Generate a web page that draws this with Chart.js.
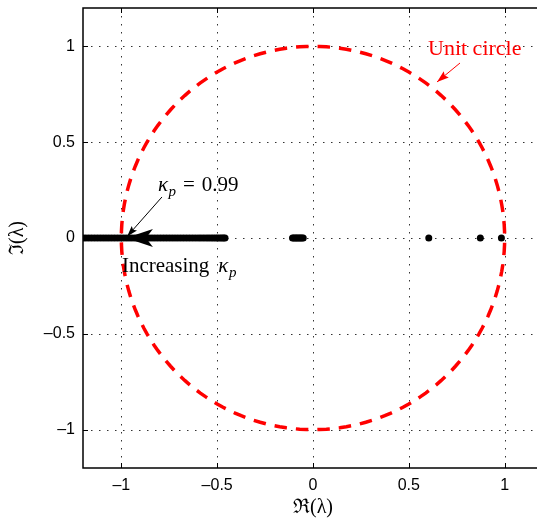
<!DOCTYPE html>
<html>
<head>
<meta charset="utf-8">
<script src="https://cdn.jsdelivr.net/npm/chart.js@4.4.0/dist/chart.umd.min.js"></script>
<style>
  html, body { margin: 0; padding: 0; background: #fff; overflow: hidden; }
  #wrap { width: 560px; height: 525px; }
</style>
</head>
<body>
<div id="wrap"><canvas id="chart1" width="560" height="525" style="width:560px;height:525px"></canvas></div>
<script>
// tick marks on both axes
var xTicks = [-1, -0.5, 0, 0.5, 1];
var yTicks = [-1, -0.5, 0, 0.5, 1];

var eigReal = [
  -1.200, -1.185, -1.170, -1.155, -1.140, -1.125, -1.110, -1.095, -1.080, -1.065,
  -1.050, -1.035, -1.020, -1.005, -0.990, -0.975, -0.960, -0.945, -0.930, -0.915,
  -0.900, -0.885, -0.870, -0.855, -0.840, -0.825, -0.810, -0.795, -0.780, -0.765,
  -0.750, -0.735, -0.720, -0.705, -0.690, -0.675, -0.660, -0.645, -0.630, -0.615,
  -0.600, -0.586, -0.572, -0.558, -0.545, -0.532, -0.520, -0.508, -0.497, -0.486,
  -0.476, -0.467, -0.459,
  -0.107, -0.100, -0.093, -0.086, -0.079, -0.072, -0.065, -0.058, -0.051,
  0.604, 0.873, 0.983
];
var eigImag = eigReal.map(function () { return 0; });

// unit circle reference curve
var circleAngles = [];
for (var a = 0; a <= 360; a += 2) circleAngles.push(a);

function minusLabel(v) {
  return v < 0 ? '\u2013' + Math.abs(v) : String(v);
}

var eigPoints = eigReal.map(function (x, i) { return { x: x, y: eigImag[i] }; });
var circlePoints = circleAngles.map(function (d) {
  var t = d * Math.PI / 180;
  return { x: Math.cos(t), y: Math.sin(t) };
});

function px(chart, x) { return chart.scales.x.getPixelForValue(x); }
function py(chart, y) { return chart.scales.y.getPixelForValue(y); }

function arrowHead(ctx, x1, y1, x2, y2, len, half, notch) {
  var ang = Math.atan2(y2 - y1, x2 - x1);
  var c = Math.cos(ang), s = Math.sin(ang);
  ctx.beginPath();
  ctx.moveTo(x2, y2);
  ctx.lineTo(x2 - len * c + half * s, y2 - len * s - half * c);
  ctx.lineTo(x2 - (len - notch) * c, y2 - (len - notch) * s);
  ctx.lineTo(x2 - len * c - half * s, y2 - len * s + half * c);
  ctx.closePath();
  ctx.fill();
}

function kappaP(ctx, x, y, size) {
  ctx.font = 'italic ' + size + 'px "Liberation Serif"';
  ctx.fillText('\u03ba', x, y);
  var w = ctx.measureText('\u03ba').width;
  ctx.font = 'italic ' + Math.round(size * 0.72) + 'px "Liberation Serif"';
  ctx.fillText('p', x + w + 0.5, y + size * 0.22);
  return w + 0.5 + ctx.measureText('p').width;
}

var annot = {
  id: 'annot',
  beforeDatasetsDraw: function (chart) {
    var ctx = chart.ctx, area = chart.chartArea;
    ctx.save();
    ctx.strokeStyle = '#333';
    ctx.lineWidth = 1;
    ctx.setLineDash([1.5, 6.5]);
    xTicks.forEach(function (v) {
      var x = Math.round(px(chart, v)) + 0.5;
      ctx.beginPath(); ctx.moveTo(x, area.top); ctx.lineTo(x, area.bottom); ctx.stroke();
    });
    yTicks.forEach(function (v) {
      var y = Math.round(py(chart, v)) + 0.5;
      ctx.beginPath(); ctx.moveTo(area.left, y); ctx.lineTo(area.right, y); ctx.stroke();
    });
    ctx.restore();
  },
  afterDatasetsDraw: function (chart) {
    var ctx = chart.ctx, area = chart.chartArea;
    ctx.save();
    // box and inward ticks
    ctx.strokeStyle = '#000';
    ctx.lineWidth = 1.5;
    ctx.strokeRect(area.left, area.top, area.right - area.left, area.bottom - area.top);
    ctx.lineWidth = 1;
    xTicks.forEach(function (v) {
      var x = Math.round(px(chart, v)) + 0.5;
      ctx.beginPath();
      ctx.moveTo(x, area.bottom); ctx.lineTo(x, area.bottom - 5);
      ctx.moveTo(x, area.top); ctx.lineTo(x, area.top + 5);
      ctx.stroke();
    });
    yTicks.forEach(function (v) {
      var y = Math.round(py(chart, v)) + 0.5;
      ctx.beginPath();
      ctx.moveTo(area.left, y); ctx.lineTo(area.left + 5, y);
      ctx.moveTo(area.right, y); ctx.lineTo(area.right - 5, y);
      ctx.stroke();
    });

    // thick arrow along the real axis
    ctx.fillStyle = '#000';
    ctx.strokeStyle = '#000';
    var tx1 = px(chart, -0.537), tx2 = px(chart, -0.976), ty = py(chart, 0);
    ctx.lineWidth = 4;
    ctx.beginPath(); ctx.moveTo(tx1, ty); ctx.lineTo(tx2 + 12, ty); ctx.stroke();
    arrowHead(ctx, tx1, ty, tx2, ty, 27, 9, 7);

    // thin arrow to kappa = 0.99
    var ax1 = px(chart, -0.788), ay1 = py(chart, 0.214);
    var ax2 = px(chart, -0.970), ay2 = py(chart, 0.008);
    ctx.lineWidth = 1;
    ctx.beginPath(); ctx.moveTo(ax1, ay1); ctx.lineTo(ax2, ay2); ctx.stroke();
    arrowHead(ctx, ax1, ay1, ax2, ay2, 11, 3.5, 2);

    // red arrow to the circle
    ctx.fillStyle = '#ff0000';
    ctx.strokeStyle = '#ff0000';
    var rx1 = px(chart, 0.767), ry1 = py(chart, 0.913);
    var rx2 = px(chart, 0.647), ry2 = py(chart, 0.814);
    ctx.beginPath(); ctx.moveTo(rx1, ry1); ctx.lineTo(rx2, ry2); ctx.stroke();
    arrowHead(ctx, rx1, ry1, rx2, ry2, 12, 4, 2);

    // texts
    ctx.textBaseline = 'alphabetic';
    ctx.textAlign = 'left';
    ctx.font = '22px "Liberation Serif"';
    ctx.fillText('Unit circle', px(chart, 0.600), py(chart, 0.955));

    ctx.fillStyle = '#000';
    var kx = px(chart, -0.809), ky = py(chart, 0.245);
    var kw = kappaP(ctx, kx, ky, 21);
    ctx.font = '21px "Liberation Serif"';
    ctx.fillText('=', kx + kw + 7, ky);
    ctx.fillText('0.99', kx + kw + 7 + ctx.measureText('=').width + 7, ky);

    var ix = px(chart, -0.997), iy = py(chart, -0.177);
    ctx.font = '21px "Liberation Serif"';
    ctx.fillText('Increasing', ix, iy);
    var iw = ctx.measureText('Increasing').width;
    kappaP(ctx, ix + iw + 9, iy, 21);
    ctx.restore();
  }
};

var ctx1 = document.getElementById('chart1').getContext('2d');
new Chart(ctx1, {
  type: 'scatter',
  data: {
    datasets: [{
      label: 'Unit circle',
      type: 'line',
      data: circlePoints,
      showLine: true,
      borderColor: '#ff0000',
      borderWidth: 3.5,
      borderDash: [12.5, 9],
      borderDashOffset: 17,
      pointRadius: 0,
      fill: false,
      tension: 0,
      order: 0
    }, {
      label: 'Eigenvalues',
      data: eigPoints,
      showLine: false,
      pointRadius: 3.5,
      pointBorderWidth: 0,
      pointBackgroundColor: '#000',
      order: 1
    }]
  },
  options: {
    responsive: false,
    animation: false,
    devicePixelRatio: 1,
    layout: { padding: { left: 0, right: 17, top: 8, bottom: 0 } },
    plugins: { legend: { display: false }, tooltip: { enabled: false } },
    scales: {
      x: {
        type: 'linear', min: -1.2, max: 1.2,
        afterBuildTicks: function (s) { s.ticks = xTicks.map(function (v) { return { value: v }; }); },
        afterFit: function (s) { s.height = 57; s.paddingLeft = 0; s.paddingRight = 0; },
        grid: { display: false, drawTicks: false },
        border: { display: false },
        ticks: {
          color: '#000', padding: 8, maxRotation: 0,
          font: { family: '"Liberation Sans"', size: 16 },
          callback: function (v) { return minusLabel(v); }
        },
        title: {
          display: true, text: '\u211c(\u03bb)', color: '#000',
          font: { family: '"Liberation Serif"', size: 20 },
          padding: { top: 0, bottom: 5 }
        }
      },
      y: {
        type: 'linear', min: -1.2, max: 1.2,
        afterBuildTicks: function (s) { s.ticks = yTicks.map(function (v) { return { value: v }; }); },
        afterFit: function (s) { s.width = 83; s.paddingTop = 0; s.paddingBottom = 0; },
        grid: { display: false, drawTicks: false },
        border: { display: false },
        ticks: {
          color: '#000', padding: 8,
          font: { family: '"Liberation Sans"', size: 16 },
          callback: function (v) { return minusLabel(v); }
        },
        title: {
          display: true, text: '\u2111(\u03bb)', color: '#000',
          font: { family: '"Liberation Serif"', size: 20 },
          padding: { top: 6, bottom: 0 }
        }
      }
    }
  },
  plugins: [annot]
});
</script>
</body>
</html>
